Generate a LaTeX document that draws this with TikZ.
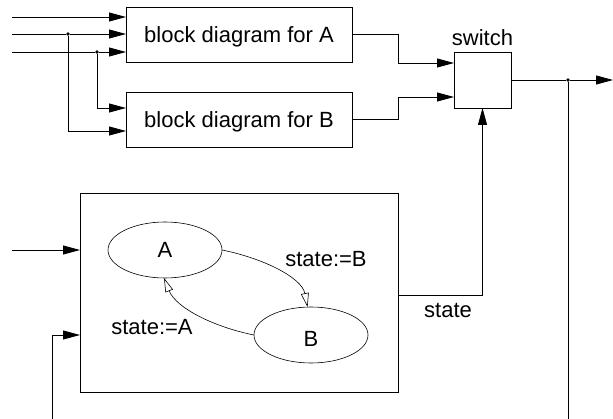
\documentclass[tikz,border=0pt]{standalone}
\usepackage{fontspec}
\setmainfont{Liberation Sans}
\usetikzlibrary{arrows.meta,calc,shapes.geometric}

\begin{document}
\begin{tikzpicture}[x=1pt,y=-1pt,
  line width=0.8pt,
  font=\fontsize{22}{26}\selectfont,
  every node/.style={inner sep=0pt,outer sep=0pt},
  blk/.style={draw,rectangle},
  st/.style={draw,ellipse,line width=0.6pt,minimum width=114pt,minimum height=56pt},
  flow/.style={-{Triangle[length=17pt,width=9pt]}},
  trans/.style={-{Triangle[open,length=14pt,width=8pt]},line width=0.6pt},
  junction/.style={circle,fill,inner sep=0pt,minimum size=3.8pt}]
\useasboundingbox (0,0) rectangle (613,419);

% processing blocks and the switch
\node[blk,text depth=0pt,minimum width=226pt,minimum height=55pt] (ba) at (239,34.5) {block diagram for A};
\node[blk,text depth=0pt,minimum width=226pt,minimum height=55pt] (bb) at (239,119.5) {block diagram for B};
\node[blk,minimum width=57pt,minimum height=56pt] (sw) at (482.5,80) {};
\node[anchor=base] (swl) at (482.5,46) {switch};

% controller with its state machine
\node[blk,minimum width=318pt,minimum height=199pt] (ctl) at (239,292.5) {};
\node[st] (A) at (165,250) {A};
\node[st,text height=24pt] (B) at (311,335) {B};
\node[anchor=base] (lb) at (326,267) {state:=B};
\node[anchor=base] (la) at (152,335) {state:=A};
\node[anchor=base] (ls) at (448,318) {state};

% free ends and branch points
\coordinate (i1) at (12,17);
\coordinate (i2) at (12,34);
\coordinate (i3) at (12,52);
\coordinate (i4) at (12,250);
\coordinate (i5) at (52,419);
\coordinate (o1) at (613,80);
\coordinate (o2) at (568,419);
\node[junction] (j1) at (68,34) {};
\node[junction] (j2) at (97,52) {};
\node[junction] (j3) at (568,80) {};

% inputs of the blocks
\draw[flow] (i1) -- (i1 -| ba.west);
\draw (i2) -- (j1);
\draw[flow] (j1) -- (j1 -| ba.west);
\draw (i3) -- (j2);
\draw[flow] (j2) -- (j2 -| ba.west);
\draw[flow] (j2) |- ($(bb.west)+(0,-11.5)$);
\draw[flow] (j1) |- ($(bb.west)+(0,11.5)$);

% block outputs into the switch
\draw[flow] (ba.east) -- ++(46,0) |- ($(sw.west)+(0,-17)$);
\draw[flow] (bb.east) -- ++(46,0) |- ($(sw.west)+(0,17)$);

% switch output
\draw (sw.east) -- (j3);
\draw[flow] (j3) -- (o1);
\draw (j3) -- (o2);

% controller inputs and state output
\draw[flow] (i4) -- (i4 -| ctl.west);
\draw[flow] (i5) |- ($(ctl.west)+(0,42.5)$);
\draw[flow] ($(ctl.east)+(0,2.5)$) -| (sw.south);

% state transitions
\draw[trans] (A.east) .. controls +(40,8) and +(-6,-30) .. (B.97);
\draw[trans] (B.west) .. controls +(-40,-8) and +(12,30) .. (A.-92);
\end{tikzpicture}
\end{document}
